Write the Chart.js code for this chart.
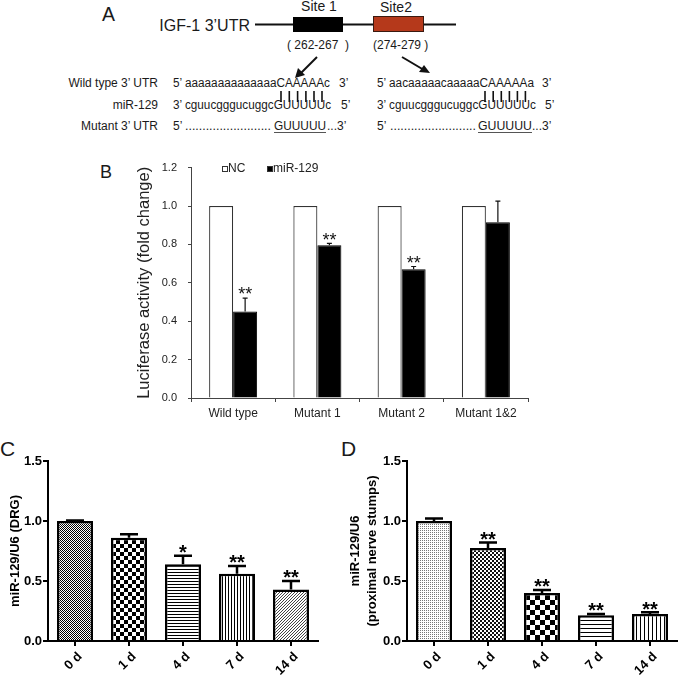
<!DOCTYPE html>
<html>
<head>
<meta charset="utf-8">
<script src="https://cdn.jsdelivr.net/npm/chart.js@4"></script>
<style>
  body { margin: 0; background: #fff; width: 680px; height: 677px; position: relative; overflow: hidden; }
  svg, canvas { position: absolute; }
</style>
</head>
<body>
<svg id="art" style="left:0;top:0" width="680" height="677" font-family="Arial, 'Liberation Sans', sans-serif" fill="#1a1a1a">
  <!-- panel letters -->
  <text x="102" y="21" font-size="19.5">A</text>
  <text x="100" y="178" font-size="18">B</text>
  <text x="0" y="456" font-size="21">C</text>
  <text x="341" y="456" font-size="21">D</text>

  <!-- panel A: gene sketch -->
  <text x="250" y="31" font-size="16" text-anchor="end">IGF-1 3’UTR</text>
  <line x1="255" y1="24.5" x2="456" y2="24.5" stroke="#111" stroke-width="2"/>
  <rect x="293" y="17" width="50" height="15" fill="#000"/>
  <rect x="373.5" y="16.5" width="50" height="15" fill="#b5391b" stroke="#3a1a10" stroke-width="1"/>
  <text x="319" y="11" font-size="14" text-anchor="middle">Site 1</text>
  <text x="396" y="12" font-size="14" text-anchor="middle">Site2</text>
  <text x="287" y="49" font-size="12" xml:space="preserve">( 262-267  )</text>
  <text x="373" y="49" font-size="12" xml:space="preserve">(274-279 )</text>
  <line x1="317" y1="57" x2="301" y2="73" stroke="#111" stroke-width="2"/>
  <polygon points="295,78 298,68 305,75" fill="#111"/>
  <line x1="402" y1="57" x2="424" y2="70" stroke="#111" stroke-width="2"/>
  <polygon points="430,73 419,72 424,65" fill="#111"/>

  <g font-size="12">
    <text x="158" y="87" text-anchor="end">Wild type 3’ UTR</text>
    <text x="158" y="109" text-anchor="end">miR-129</text>
    <text x="158" y="130" text-anchor="end">Mutant 3’ UTR</text>

    <text x="173" y="87" textLength="157" lengthAdjust="spacingAndGlyphs">5’ aaaaaaaaaaaaaaCAAAAAc</text>
    <text x="339" y="87">3’</text>
    <text x="173" y="109" textLength="158" lengthAdjust="spacingAndGlyphs">3’ cguucgggucuggcGUUUUUc</text>
    <text x="341" y="109">5’</text>
    <text x="173" y="130">5’</text>
    <text x="185" y="130" textLength="86" lengthAdjust="spacingAndGlyphs">.........................</text>
    <text x="274" y="130" textLength="52" lengthAdjust="spacingAndGlyphs">GUUUUU</text>
    <line x1="274" y1="132.5" x2="326" y2="132.5" stroke="#555" stroke-width="1"/>
    <text x="327" y="130">...3’</text>

    <text x="377" y="87" textLength="157" lengthAdjust="spacingAndGlyphs">5’ aacaaaaacaaaaaCAAAAAa</text>
    <text x="542" y="87">3’</text>
    <text x="377" y="109" textLength="159" lengthAdjust="spacingAndGlyphs">3’ cguucgggucuggcGUUUUUc</text>
    <text x="545" y="109">5’</text>
    <text x="377" y="130">5’</text>
    <text x="390" y="130" textLength="86" lengthAdjust="spacingAndGlyphs">.........................</text>
    <text x="478" y="130" textLength="54" lengthAdjust="spacingAndGlyphs">GUUUUU</text>
    <line x1="478" y1="132.5" x2="532" y2="132.5" stroke="#555" stroke-width="1"/>
    <text x="532" y="130">...3’</text>
  </g>
  <g stroke="#111" stroke-width="1.6">
    <line x1="281" y1="91" x2="281" y2="102"/><line x1="289.3" y1="91" x2="289.3" y2="102"/>
    <line x1="297.6" y1="91" x2="297.6" y2="102"/><line x1="305.9" y1="91" x2="305.9" y2="102"/>
    <line x1="314" y1="91" x2="314" y2="102"/><line x1="322" y1="91" x2="322" y2="102"/>
    <line x1="485" y1="91" x2="485" y2="102"/><line x1="493.2" y1="91" x2="493.2" y2="102"/>
    <line x1="501.3" y1="91" x2="501.3" y2="102"/><line x1="509.4" y1="91" x2="509.4" y2="102"/>
    <line x1="517.4" y1="91" x2="517.4" y2="102"/><line x1="525.4" y1="91" x2="525.4" y2="102"/>
  </g>
</svg>

<canvas id="chartB" style="left:0;top:150px" width="560" height="280"></canvas>
<canvas id="chartC" style="left:0;top:440px" width="340" height="237"></canvas>
<canvas id="chartD" style="left:340px;top:440px" width="340" height="237"></canvas>

<script>
// ---- data ----
const groupsB = ['Wild type', 'Mutant 1', 'Mutant 2', 'Mutant 1&2'];
const ncB = [1.0, 1.0, 1.0, 1.0];
const mirB = [0.45, 0.795, 0.67, 0.915];
const mirErrB = [0.07, 0.01, 0.015, 0.11];
const mirSigB = ['**', '**', '**', ''];

const daysC = ['0 d', '1 d', '4 d', '7 d', '14 d'];
const drgC = [1.0, 0.86, 0.64, 0.56, 0.43];
const drgErrC = [0.005, 0.03, 0.07, 0.065, 0.07];
const drgSigC = ['', '', '*', '**', '**'];

const daysD = ['0 d', '1 d', '4 d', '7 d', '14 d'];
const stumpD = [1.0, 0.775, 0.40, 0.215, 0.225];
const stumpErrD = [0.02, 0.045, 0.025, 0.01, 0.015];
const stumpSigD = ['', '**', '**', '**', '**'];

Chart.defaults.font.family = 'Arial, "Liberation Sans", sans-serif';

// ---- fill patterns ----
function pattern(size, draw) {
    const c = document.createElement('canvas');
    c.width = c.height = size;
    const g = c.getContext('2d');
    g.fillStyle = '#fff';
    g.fillRect(0, 0, size, size);
    g.fillStyle = '#000';
    draw(g, size);
    return g.createPattern(c, 'repeat');
}
const checker = (n, col) => pattern(2 * n, g => { g.fillStyle = col; g.fillRect(0, 0, n, n); g.fillRect(n, n, n, n); });
const hlines = n => pattern(n, g => g.fillRect(0, 0, n, 1));
const vlines = n => pattern(n, g => g.fillRect(0, 0, 1, n));
const diag = n => pattern(n, g => { g.fillStyle = '#444'; for (let i = 0; i < n; i++) g.fillRect(n - 1 - i, i, 1, 1); });
const stipple = () => pattern(2, g => { g.fillStyle = '#777'; g.fillRect(0, 0, 1, 1); });

// ---- error bars + significance stars ----
const errorBars = {
    id: 'errorBars',
    afterDatasetsDraw(chart, args, o) {
        const ctx = chart.ctx, ys = chart.scales.y;
        chart.data.datasets.forEach((ds, di) => {
            if (!ds.errors) return;
            chart.getDatasetMeta(di).data.forEach((bar, i) => {
                const top = ys.getPixelForValue(ds.data[i] + ds.errors[i]);
                ctx.save();
                ctx.strokeStyle = o.color;
                ctx.lineWidth = o.width;
                ctx.beginPath();
                ctx.moveTo(bar.x, bar.y);
                ctx.lineTo(bar.x, top);
                ctx.moveTo(bar.x - o.cap / 2, top);
                ctx.lineTo(bar.x + o.cap / 2, top);
                ctx.stroke();
                const mark = ds.marks && ds.marks[i];
                if (mark) {
                    ctx.fillStyle = o.color;
                    ctx.font = o.weight + ' ' + o.size + 'px Arial, "Liberation Sans", sans-serif';
                    ctx.textAlign = 'center';
                    ctx.textBaseline = 'alphabetic';
                    ctx.fillText(mark, bar.x, top - o.gap + 0.57 * o.size);
                }
                ctx.restore();
            });
        });
    }
};

// small box legend drawn inside the plot (panel B)
const boxLegend = {
    id: 'boxLegend',
    afterDraw(chart, args, o) {
        const ctx = chart.ctx;
        chart.data.datasets.forEach((ds, i) => {
            const x = o.xs[i], y = o.y;
            ctx.save();
            ctx.fillStyle = ds.backgroundColor;
            ctx.fillRect(x, y - 3, 6, 6);
            ctx.strokeStyle = '#333';
            ctx.lineWidth = 1;
            ctx.strokeRect(x + 0.5, y - 2.5, 5, 5);
            ctx.fillStyle = '#222';
            ctx.font = '12px Arial, "Liberation Sans", sans-serif';
            ctx.textBaseline = 'middle';
            ctx.fillText(ds.label, x + 6, y);
            ctx.restore();
        });
    }
};

// ---- panel B ----
new Chart(document.getElementById('chartB'), {
    type: 'bar',
    data: {
        labels: groupsB,
        datasets: [
            { label: 'NC', data: ncB, backgroundColor: '#fff', borderColor: '#333', borderWidth: 1.2 },
            { label: 'miR-129', data: mirB, errors: mirErrB, marks: mirSigB, backgroundColor: '#000', borderColor: '#000', borderWidth: 1 }
        ]
    },
    options: {
        responsive: false,
        animation: false,
        layout: { padding: { left: 130, right: 32, top: 15, bottom: 0 } },
        datasets: { bar: { categoryPercentage: 0.57, barPercentage: 1 } },
        plugins: {
            legend: { display: false },
            tooltip: { enabled: false },
            errorBars: { color: '#111', width: 1.2, cap: 5, size: 18, weight: 'normal', gap: 8 },
            boxLegend: { xs: [222, 267], y: 19 }
        },
        scales: {
            x: {
                grid: { drawOnChartArea: false, offset: true, color: '#444', tickLength: 4 },
                border: { color: '#444', width: 1 },
                ticks: { color: '#222', font: { size: 12 }, padding: 4, maxRotation: 0 },
                afterFit: s => { s.height = 32; }
            },
            y: {
                min: 0, max: 1.2,
                ticks: { stepSize: 0.2, callback: v => v.toFixed(1), color: '#222', font: { size: 11 }, padding: 11 },
                grid: { drawOnChartArea: false, color: '#444', tickLength: 3 },
                border: { color: '#444', width: 1 },
                title: { display: true, text: 'Luciferase activity (fold change)', color: '#222', font: { size: 16.5 }, padding: { top: 5, bottom: 0 } },
                afterFit: s => { s.width = 61; }
            }
        }
    },
    plugins: [errorBars, boxLegend]
});

// ---- panels C and D ----
function timeChart(id, labels, values, errs, sigs, fills, title, yWidth, padRight) {
    return new Chart(document.getElementById(id), {
        type: 'bar',
        data: {
            labels: labels,
            datasets: [{ data: values, errors: errs, marks: sigs, backgroundColor: fills, borderColor: '#000', borderWidth: 2.5 }]
        },
        options: {
            responsive: false,
            animation: false,
            layout: { padding: { left: 0, right: padRight, top: 21, bottom: 0 } },
            datasets: { bar: { categoryPercentage: 1, barPercentage: 0.667 } },
            plugins: {
                legend: { display: false },
                tooltip: { enabled: false },
                errorBars: { color: '#000', width: 2.5, cap: 18, size: 20, weight: 'bold', gap: 8 }
            },
            scales: {
                x: {
                    grid: { drawOnChartArea: false, offset: false, color: '#000', lineWidth: 2, tickLength: 5 },
                    border: { color: '#000', width: 2 },
                    ticks: { color: '#000', font: { size: 13, weight: 'bold' }, padding: 3, labelOffset: 5, minRotation: 45, maxRotation: 45 },
                    afterFit: s => { s.height = 36; }
                },
                y: {
                    min: 0, max: 1.5,
                    ticks: { stepSize: 0.5, callback: v => v.toFixed(1), color: '#000', font: { size: 13, weight: 'bold' }, padding: 1 },
                    grid: { drawOnChartArea: false, color: '#000', lineWidth: 2, tickLength: 5 },
                    border: { color: '#000', width: 2 },
                    title: { display: true, text: title, color: '#000', font: { size: 13, weight: 'bold', lineHeight: 1.38 }, padding: { top: 6, bottom: 0 } },
                    afterFit: s => { s.width = yWidth; }
                }
            }
        },
        plugins: [errorBars]
    });
}

timeChart('chartC', daysC, drgC, drgErrC, drgSigC,
    [checker(1, '#000'), checker(4, '#000'), hlines(3), vlines(3), diag(3)],
    'miR-129/U6 (DRG)', 48, 22);

timeChart('chartD', daysD, stumpD, stumpErrD, stumpSigD,
    [stipple(), checker(2, '#111'), checker(5, '#000'), hlines(4), vlines(4)],
    ['miR-129/U6', '(proximal nerve stumps)'], 67, 3);
</script>
</body>
</html>
